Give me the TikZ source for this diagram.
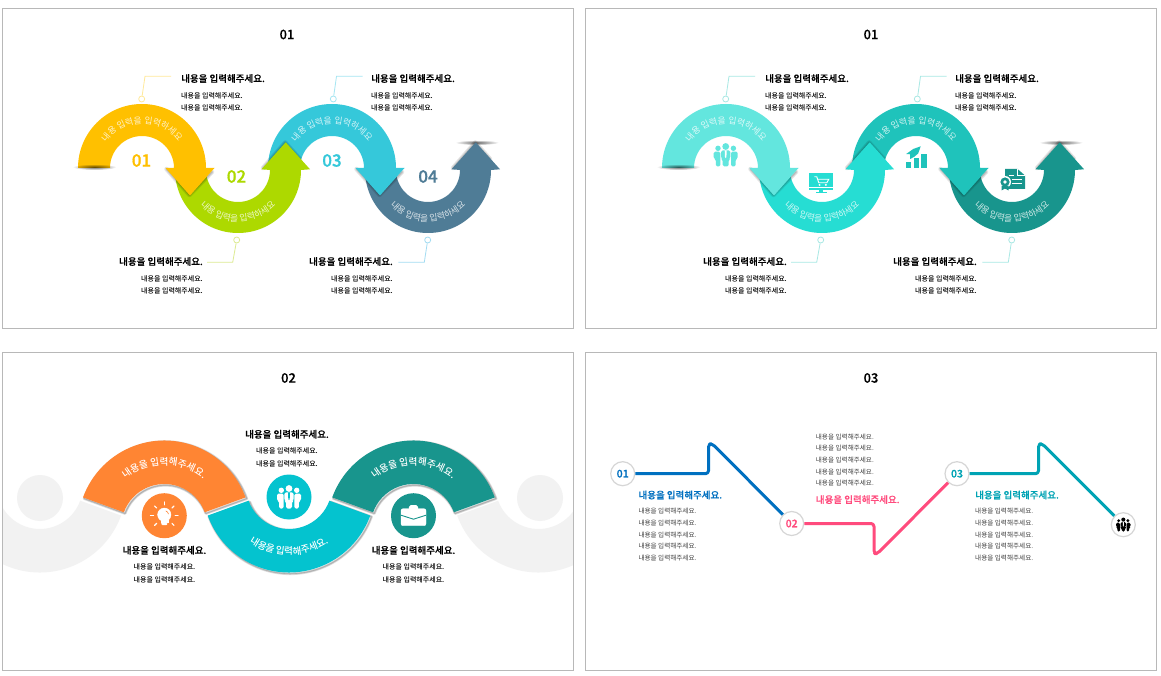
\documentclass[tikz,border=0pt]{standalone}
\usepackage{fontspec}
\usepackage{xcolor}
\setmainfont{Noto Sans CJK KR}
\newfontfamily\krbody{Noto Sans CJK KR Medium}
\newfontfamily\krmed[FakeBold=0.25]{Noto Sans CJK KR Medium}
\newfontfamily\krnum[FakeBold=0.9]{Noto Sans CJK KR Medium}
\usetikzlibrary{positioning, calc, fadings, decorations.text}

\definecolor{waveYellow}{HTML}{FFC000}
\definecolor{waveLime}{HTML}{ADD900}
\definecolor{waveSky}{HTML}{35C8DA}
\definecolor{waveSlate}{HTML}{4F7C96}
\definecolor{waveMint}{HTML}{63E6DE}
\definecolor{waveAqua}{HTML}{26DDD3}
\definecolor{waveTeal}{HTML}{1FC3BB}
\definecolor{waveDeep}{HTML}{18958D}
\definecolor{bandOrange}{HTML}{FF8533}
\definecolor{bandCyan}{HTML}{04C3CF}
\definecolor{bandGray}{HTML}{F2F2F2}
\definecolor{lineBlue}{HTML}{0070C0}
\definecolor{linePink}{HTML}{FF4B7D}
\definecolor{lineTeal}{HTML}{00A3B4}
\definecolor{leadYellow}{HTML}{FFE99A}
\definecolor{leadLime}{HTML}{DDEB92}
\definecolor{leadSky}{HTML}{A5E6F2}
\definecolor{leadBlue}{HTML}{A3DCF2}
\definecolor{leadMint}{HTML}{A8E8E4}
\colorlet{iconback}{white}

\tikzfading[name=softedge, inner color=transparent!0, outer color=transparent!100]

% arc pointing down on its right leg: centre x, fill colour
\newcommand{\toparrow}[2]{
    \foreach \w in {1,2.5,4.5} {
        \draw[black, opacity=.1, line width=\w pt, line join=round, line cap=round]
            (#1+24.5,506) -- (#1+47.5,480) -- (#1+70,503);
    }
    \fill[#2] (#1-64,507) arc[start angle=180, end angle=0, radius=64]
        -- (#1+72.5,507) -- (#1+48,479.5) -- (#1+23.5,507) -- (#1+32,507)
        arc[start angle=0, end angle=180, radius=32] -- cycle;
    \path[decorate, decoration={text along path, text align=center,
        text={|\fontsize{8.8}{8.8}\selectfont\color{white!78!#2}|내용 입력을 입력하세요}}]
        (#1-44.5,507) arc[start angle=180, end angle=0, radius=44.5];
}
% arc pointing up on its right leg: centre x, fill colour
\newcommand{\botarrow}[2]{
    \foreach \w in {1,2.5,4.5} {
        \draw[black, opacity=.1, line width=\w pt, line join=round, line cap=round]
            (#1+25,507) -- (#1+47.2,532.5) -- (#1+62,516);
    }
    \fill[#2] (#1-63,507) -- (#1-63,505) arc[start angle=180, end angle=360, radius=63]
        -- (#1+72,505.7) -- (#1+47.7,532.7) -- (#1+23.5,505.7) -- (#1+32,505)
        arc[start angle=360, end angle=180, radius=32] -- (#1-32,507) -- cycle;
    \path[decorate, decoration={text along path, text align=center,
        text={|\fontsize{8.8}{8.8}\selectfont\color{white!78!#2}|내용 입력을 입력하세요}}]
        (#1-51.5,505) arc[start angle=180, end angle=360, radius=51.5];
}
% ring sector: centre x, centre y, start angle, fill colour
\newcommand{\bandsector}[4]{
    \fill[#4] ($(#1,#2)+(#3:86.5)$) arc[start angle=#3, delta angle=140, radius=86.5]
        -- ($(#1,#2)+(#3+140:43)$) arc[start angle=#3+140, delta angle=-140, radius=43] -- cycle;
}
\newcommand{\bandshadow}[3]{
    \foreach \w in {0.6,1.6,2.8} {
        \draw[black, opacity=.12, line width=\w pt, line join=round, xshift=1.2pt, yshift=-1.2pt]
            ($(#1,#2)+(#3:86.5)$) arc[start angle=#3, delta angle=140, radius=86.5]
            -- ($(#1,#2)+(#3+140:43)$) arc[start angle=#3+140, delta angle=-140, radius=43] -- cycle;
    }
}

\begin{document}
\begin{tikzpicture}[
        x=1pt, y=1pt,
        frame/.style={draw=black!28, line width=0.8pt},
        sheettitle/.style={inner sep=0pt, font=\fontsize{13}{13}\selectfont\krmed},
        headline/.style={inner sep=0pt, font=\fontsize{9.5}{12}\selectfont\krmed},
        bodyline/.style={inner sep=0pt, font=\fontsize{7}{12.6}\selectfont\krbody},
        thinline/.style={inner sep=0pt, text=black!75, font=\fontsize{6.6}{11.7}\selectfont},
        arcnumber/.style={inner sep=0pt, font=\fontsize{17}{17}\selectfont\krnum},
        leaddot/.style={circle, draw, fill=white, line width=0.8pt, inner sep=0pt, minimum size=6pt},
        leader/.style={line width=0.8pt},
        stepdot/.style={circle, draw=black!16, fill=white, line width=1.2pt, inner sep=0pt, minimum size=24pt, font=\fontsize{10.5}{10.5}\selectfont\krnum},
        zigzag/.style={line width=3pt, rounded corners=3pt, line join=round},
        peopleicon/.pic={
            \fill[pic actions] (0,8.5) circle (3.4);
            \fill[pic actions] (-7.7,6.7) circle (2.7);
            \fill[pic actions] (7.7,6.7) circle (2.7);
            \fill[pic actions, rounded corners=1.6pt] (-4.6,4.6) -- (4.6,4.6) -- (4.6,-3.5) -- (3,-4.5) -- (3,-11.5) -- (-3,-11.5) -- (-3,-4.5) -- (-4.6,-3.5) -- cycle;
            \fill[pic actions, rounded corners=1.4pt] (-12,3.3) -- (-5.4,3.3) -- (-5.4,-11.5) -- (-9.8,-11.5) -- (-9.8,-4.5) -- (-12,-3.5) -- cycle;
            \fill[pic actions, rounded corners=1.4pt] (12,3.3) -- (5.4,3.3) -- (5.4,-11.5) -- (9.8,-11.5) -- (9.8,-4.5) -- (12,-3.5) -- cycle;
            \fill[iconback] (-1,4.7) -- (1,4.7) -- (0.7,-2) -- (0,-3.2) -- (-0.7,-2) -- cycle;
        },
        shopicon/.pic={
            \fill[pic actions] (-12,-3.3) rectangle (12,10);
            \fill[pic actions] (-12,-6.5) rectangle (12,-4.3);
            \fill[pic actions] (-2,-6.5) rectangle (2,-8.8);
            \fill[pic actions] (-5.5,-10) rectangle (5.5,-8.8);
            \draw[iconback, line width=0.9pt] (-7,6.5) -- (-4.5,6.5) -- (-2.5,0.5) -- (5.5,0.5);
            \draw[iconback, line width=0.9pt] (-3.8,4) -- (7.5,4) -- (5.5,0.5);
            \fill[iconback] (-1.8,-1.6) circle (1.1) (4.5,-1.6) circle (1.1);
        },
        rocketicon/.pic={
            \fill[pic actions] (-10.5,-11) rectangle (-5.5,-5);
            \fill[pic actions] (-3.2,-11) rectangle (1.8,-1);
            \fill[pic actions] (4.5,-11) rectangle (10.5,3.3);
            \fill[pic actions] (4,10.7) -- (-3.5,8) -- (-10.5,3) -- (-6.5,2.7) -- (-6.5,-2) -- (-2.5,0.2) -- (1.5,3.5) -- cycle;
        },
        certicon/.pic={
            \fill[pic actions] (-8,10) -- (4.5,10) -- (12,3.5) -- (12,-10) -- (-8,-10) -- cycle;
            \draw[iconback, line width=0.9pt] (4.8,10) -- (4.8,3.5) -- (12,3.5);
            \draw[iconback, line width=1pt] (-4.5,3) -- (1,3) (-1,-1) -- (8.5,-1) (-1,-4.5) -- (8.5,-4.5);
            \fill[iconback] (-8,-3) circle (6);
            \fill[pic actions] (-8,-3) circle (4.6);
            \fill[iconback] (-8,-3) circle (1.8);
            \fill[pic actions] (-11.5,-7) -- (-11.5,-11.5) -- (-8,-9.5) -- (-4.5,-11.5) -- (-4.5,-7) -- cycle;
        },
        bulbicon/.pic={
            \foreach \a in {0,45,90,135,180,225,315} {
                \draw[pic actions, line width=1.1pt, line cap=round] (\a:10.8) -- (\a:13.8);
            }
            \fill[pic actions] (0,1) circle (6.7);
            \fill[pic actions] (-3.4,-4) rectangle (3.4,-6.5);
            \fill[pic actions, rounded corners=1pt] (-2.8,-7) rectangle (2.8,-9.2);
            \draw[iconback, line width=0.6pt] (1.5,4.8) arc[start angle=70, end angle=10, radius=4.2];
        },
        caseicon/.pic={
            \draw[pic actions, line width=1.2pt, rounded corners=1.5pt] (-4,6) -- (-4,10) -- (4,10) -- (4,6);
            \fill[pic actions, rounded corners=2pt] (-12.5,-10) rectangle (12.5,7);
            \draw[iconback, line width=0.9pt] (-12.5,0.5) -- (0,-3.5) -- (12.5,0.5);
        }
    ]
    \useasboundingbox (0,0) rectangle (1161,675);
    \fill[white] (0,0) rectangle (1161,675);

    \draw[frame] (2.5,347) rectangle (573,666.5);
    \draw[frame] (585,347) rectangle (1156.7,666.5);

    % --- 1. TOP SHEETS: FOUR LINKED ARROWS ---
    \foreach \dx/\ca/\cb/\cc/\cd/\la/\lb/\lc/\ld in {
        0/waveYellow/waveLime/waveSky/waveSlate/leadYellow/leadLime/leadSky/leadBlue,
        584/waveMint/waveAqua/waveTeal/waveDeep/leadMint/leadMint/leadMint/leadMint} {
    \begin{scope}[xshift=\dx pt]
        \node[sheettitle] (title) at (287,640.5) {01};

        \fill[black, opacity=.6, path fading=softedge] (477,532.5) ellipse (22 and 2.5);
        \botarrow{428}{\cd}
        \toparrow{332}{\cc}
        \botarrow{238}{\cb}
        \toparrow{142}{\ca}
        \fill[black, opacity=.6, path fading=softedge] (94.5,508) ellipse (22 and 3);

        % upper labels
        \node[headline, anchor=west] (head1) at (181,596.5) {내용을 입력해주세요.};
        \node[bodyline, align=left, below right=13.5pt and 0pt of head1.west] (body1) {내용을 입력해주세요.\\내용을 입력해주세요.};
        \node[headline, anchor=west] (head3) at (371,596.5) {내용을 입력해주세요.};
        \node[bodyline, align=left, below right=13.5pt and 0pt of head3.west] (body3) {내용을 입력해주세요.\\내용을 입력해주세요.};
        % lower labels
        \node[headline, anchor=east] (head2) at (203,413.5) {내용을 입력해주세요.};
        \node[bodyline, align=right, below left=13.5pt and 0pt of head2.east] (body2) {내용을 입력해주세요.\\내용을 입력해주세요.};
        \node[headline, anchor=east] (head4) at (393,413.5) {내용을 입력해주세요.};
        \node[bodyline, align=right, below left=13.5pt and 0pt of head4.east] (body4) {내용을 입력해주세요.\\내용을 입력해주세요.};

        % leader lines
        \node[leaddot, draw=\la] (dot1) at (141.7,576) {};
        \node[leaddot, draw=\lb] (dot2) at (236.7,435) {};
        \node[leaddot, draw=\lc] (dot3) at (333.3,576) {};
        \node[leaddot, draw=\ld] (dot4) at (427.7,435) {};
        \coordinate (bend1) at (145,598.7);
        \coordinate (bend2) at (232.7,412.7);
        \coordinate (bend3) at (336.5,598.7);
        \coordinate (bend4) at (424.3,412.7);
        \coordinate (free1) at (171,598.7);
        \coordinate (free2) at (207,412.7);
        \coordinate (free3) at (362.7,598.7);
        \coordinate (free4) at (398.3,412.7);
        \draw[leader, draw=\la] (dot1) -- (bend1) -- (free1);
        \draw[leader, draw=\lb] (dot2) -- (bend2) -- (free2);
        \draw[leader, draw=\lc] (dot3) -- (bend3) -- (free3);
        \draw[leader, draw=\ld] (dot4) -- (bend4) -- (free4);
    \end{scope}
    }

    % numbers on the first sheet, icons on the second
    \node[arcnumber, text=waveYellow] (num1) at (141.5,514.5) {01};
    \node[arcnumber, text=waveLime] (num2) at (236.5,498.5) {02};
    \node[arcnumber, text=waveSky] (num3) at (332,514.5) {03};
    \node[arcnumber, text=waveSlate] (num4) at (428,498.5) {04};
    \pic[fill=waveMint] at (725.7,520) {peopleicon};
    \pic[fill=waveAqua] at (821.3,491.7) {shopicon};
    \pic[fill=waveTeal] at (916.7,518) {rocketicon};
    \pic[fill=waveDeep] at (1013,496) {certicon};

    % --- 2. LOWER LEFT SHEET: RING BANDS ---
    \begin{scope}
        \clip (2.5,4.5) rectangle (573,323);
        \bandsector{39.8}{189}{200}{bandGray}
        \bandsector{538.5}{189}{200}{bandGray}
        \fill[bandGray] (40,177) circle (23);
        \fill[bandGray] (540,177) circle (23);
    \end{scope}
    \draw[frame] (2.5,4.5) rectangle (573,323);
    \node[sheettitle] (title3) at (288.5,297) {02};

    \bandshadow{289}{189}{200}
    \bandsector{289}{189}{200}{bandCyan}
    \bandshadow{164.3}{148}{20}
    \bandsector{164.3}{148}{20}{bandOrange}
    \bandshadow{413.5}{148}{20}
    \bandsector{413.5}{148}{20}{waveDeep}
    \path[decorate, decoration={text along path, text align=center, text={|\fontsize{9.6}{9.6}\selectfont\krbody\color{white}|내용을 입력해주세요.}}]
        (102.3,148) arc[start angle=180, end angle=0, radius=62];
    \path[decorate, decoration={text along path, text align=center, text={|\fontsize{9.6}{9.6}\selectfont\krbody\color{white}|내용을 입력해주세요.}}]
        (351.5,148) arc[start angle=180, end angle=0, radius=62];
    \path[decorate, decoration={text along path, text align=center, text={|\fontsize{9.6}{9.6}\selectfont\krbody\color{white}|내용을 입력해주세요.}}]
        (220,189) arc[start angle=180, end angle=360, radius=69];

    \node[circle, fill=bandOrange, minimum size=45pt, inner sep=0pt] (bulbdisc) at (164.3,159.3) {};
    \node[circle, fill=bandCyan, minimum size=45pt, inner sep=0pt] (teamdisc) at (289,178) {};
    \node[circle, fill=waveDeep, minimum size=45pt, inner sep=0pt] (casedisc) at (413.5,159.3) {};
    \begin{scope}
        \colorlet{iconback}{bandOrange}
        \pic[fill=white, draw=white] at (bulbdisc) {bulbicon};
        \colorlet{iconback}{bandCyan}
        \pic[fill=white] at (teamdisc) {peopleicon};
        \colorlet{iconback}{waveDeep}
        \pic[fill=white, draw=white] at (casedisc) {caseicon};
    \end{scope}

    \node[headline] (head5) at (287,240.7) {내용을 입력해주세요.};
    \node[bodyline, align=center, below=13.5pt of head5.center] (body5) {내용을 입력해주세요.\\내용을 입력해주세요.};
    \node[headline] (head6) at (164.5,124.7) {내용을 입력해주세요.};
    \node[bodyline, align=center, below=13.5pt of head6.center] (body6) {내용을 입력해주세요.\\내용을 입력해주세요.};
    \node[headline] (head7) at (413.5,124.7) {내용을 입력해주세요.};
    \node[bodyline, align=center, below=13.5pt of head7.center] (body7) {내용을 입력해주세요.\\내용을 입력해주세요.};

    % --- 3. LOWER RIGHT SHEET: ZIGZAG LINE ---
    \draw[frame] (585,4.5) rectangle (1156.7,323);
    \node[sheettitle] (title4) at (871,297) {03};

    \node[stepdot, text=lineBlue] (step1) at (622.7,201.3) {01};
    \node[stepdot, text=linePink] (step2) at (791.7,151.5) {02};
    \node[stepdot, text=lineTeal] (step3) at (957,201.3) {03};
    \node[stepdot] (step4) at (1123.3,150.3) {};
    \pic[fill=black, scale=.6] at (step4) {peopleicon};

    \coordinate (kink1a) at (708.5,201.3);
    \coordinate (kink1b) at (708.5,231);
    \coordinate (kink1c) at (712.5,231);
    \coordinate (kink2a) at (874,151.5);
    \coordinate (kink2b) at (874,121.5);
    \coordinate (kink2c) at (877.5,121.5);
    \coordinate (kink3a) at (1038.5,201.3);
    \coordinate (kink3b) at (1038.5,231);
    \coordinate (kink3c) at (1042.5,231);
    \draw[zigzag, lineBlue] (step1) -- (kink1a) -- (kink1b) -- (kink1c) -- (step2);
    \draw[zigzag, linePink] (step2) -- (kink2a) -- (kink2b) -- (kink2c) -- (step3);
    \draw[zigzag, lineTeal] (step3) -- (kink3a) -- (kink3b) -- (kink3c) -- (step4);

    \node[headline, text=lineBlue, anchor=west] (head8) at (638.3,180) {내용을 입력해주세요.};
    \node[thinline, align=left, below right=13pt and 0pt of head8.west] (body8) {내용을 입력해주세요.\\내용을 입력해주세요.\\내용을 입력해주세요.\\내용을 입력해주세요.\\내용을 입력해주세요.};
    \node[headline, text=linePink, anchor=west] (head9) at (815.7,175.4) {내용을 입력해주세요.};
    \node[thinline, align=left, above right=13pt and 0pt of head9.west] (body9) {내용을 입력해주세요.\\내용을 입력해주세요.\\내용을 입력해주세요.\\내용을 입력해주세요.\\내용을 입력해주세요.};
    \node[headline, text=lineTeal, anchor=west] (head10) at (975,180) {내용을 입력해주세요.};
    \node[thinline, align=left, below right=13pt and 0pt of head10.west] (body10) {내용을 입력해주세요.\\내용을 입력해주세요.\\내용을 입력해주세요.\\내용을 입력해주세요.\\내용을 입력해주세요.};
\end{tikzpicture}
\end{document}
